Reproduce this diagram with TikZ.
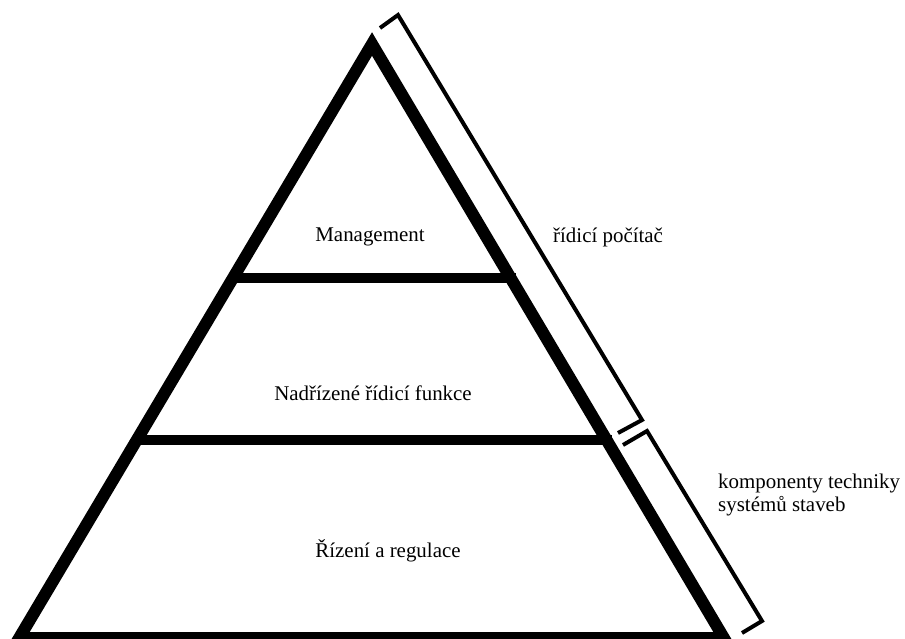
\documentclass[tikz,border=0pt]{standalone}
\usepackage{fontspec}
\setmainfont{Liberation Serif}
\begin{document}
\begin{tikzpicture}[x=1bp,y=-1bp,
  edge/.style={line width=12bp, line join=miter},
  level/.style={line width=10bp},
  brace/.style={line width=4bp, line join=miter},
  lbl/.style={font=\fontsize{21}{24}\selectfont, inner sep=0pt}]
\useasboundingbox (0,0) rectangle (905,639);
\begin{scope}
\clip (0,0) rectangle (905,639);
% triangle corners
\coordinate (apex) at (372,44);
\coordinate (bl) at (15,645);
\coordinate (br) at (728,645);
\coordinate (l1a) at (230,278);
\coordinate (l1b) at (516,278);
\coordinate (l2a) at (136,440);
\coordinate (l2b) at (612,440);
\coordinate (l3a) at (20,637);
\coordinate (l3b) at (726,637);
\draw[level] (l1a) -- (l1b);
\draw[level] (l2a) -- (l2b);
\draw[level] (l3a) -- (l3b);
\draw[edge] (bl) -- (apex) -- (br);
% brackets
\coordinate (b1s) at (380,28);
\coordinate (b1t) at (398,15);
\coordinate (b1b) at (642,420);
\coordinate (b1e) at (618,433);
\coordinate (b2s) at (623,445);
\coordinate (b2t) at (647,431);
\coordinate (b2b) at (762,621);
\coordinate (b2e) at (742,633);
\draw[brace] (b1s) -- (b1t) -- (b1b) -- (b1e);
\draw[brace] (b2s) -- (b2t) -- (b2b) -- (b2e);
\end{scope}
% labels
\node[lbl] (mg) at (370,237) {Management};
\node[lbl] (nf) at (373,393) {Nadřízené řídicí funkce};
\node[lbl] (rr) at (388,551) {Řízení a regulace};
\node[lbl, anchor=west] (rp) at (553,237) {řídicí počítač};
\node[lbl, anchor=west, align=left] (kt) at (718,495) {komponenty techniky\\systémů staveb};
\end{tikzpicture}
\end{document}
